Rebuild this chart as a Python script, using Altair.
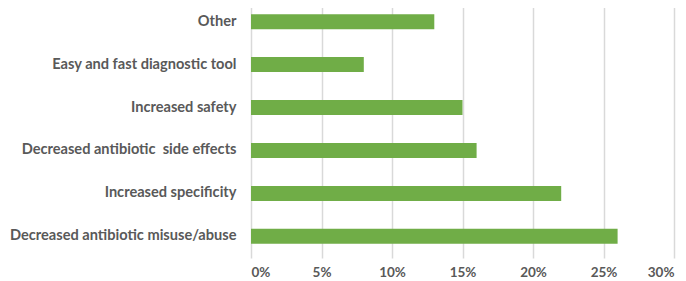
import altair as alt
import pandas as pd

categories = [
    "Other",
    "Easy and fast diagnostic tool",
    "Increased safety",
    "Decreased antibiotic\u00a0 side effects",
    "Increased specificity\u00a0",
    "Decreased antibiotic misuse/abuse",
]
values = [0.13, 0.08, 0.15, 0.16, 0.22, 0.26]
ticks = [0, 0.05, 0.10, 0.15, 0.20, 0.25, 0.30]

df = pd.DataFrame({"cat": categories, "val": values})

chart = (
    alt.Chart(df)
    .mark_bar(color="#70ad47")
    .encode(
        x=alt.X(
            "val:Q",
            scale=alt.Scale(domain=[0, 0.3], nice=False),
            axis=alt.Axis(
                values=ticks,
                format=".0%",
                title=None,
                domain=False,
                ticks=False,
                grid=True,
                gridColor="#d9d9d9",
                gridWidth=1.5,
                labelFont="Lato",
                labelFontWeight="bold",
                labelFontSize=13.5,
                labelColor="#595959",
                labelPadding=7,
            ),
        ),
        y=alt.Y(
            "cat:N",
            sort=categories,
            scale=alt.Scale(paddingInner=0.65, paddingOuter=0.33),
            axis=alt.Axis(
                title=None,
                domain=False,
                ticks=False,
                grid=False,
                labelFont="Lato",
                labelFontWeight="bold",
                labelFontSize=14.6,
                labelColor="#595959",
                labelPadding=15,
                labelLimit=300,
            ),
        ),
    )
    .properties(
        width=423,
        height=258,
        autosize=alt.AutoSizeParams(type="none"),
        padding={"left": 243, "top": -8, "right": 4, "bottom": 22},
    )
    .configure_view(stroke=None)
)

chart.save("out.html", embed_options={"renderer": "svg", "actions": False})
